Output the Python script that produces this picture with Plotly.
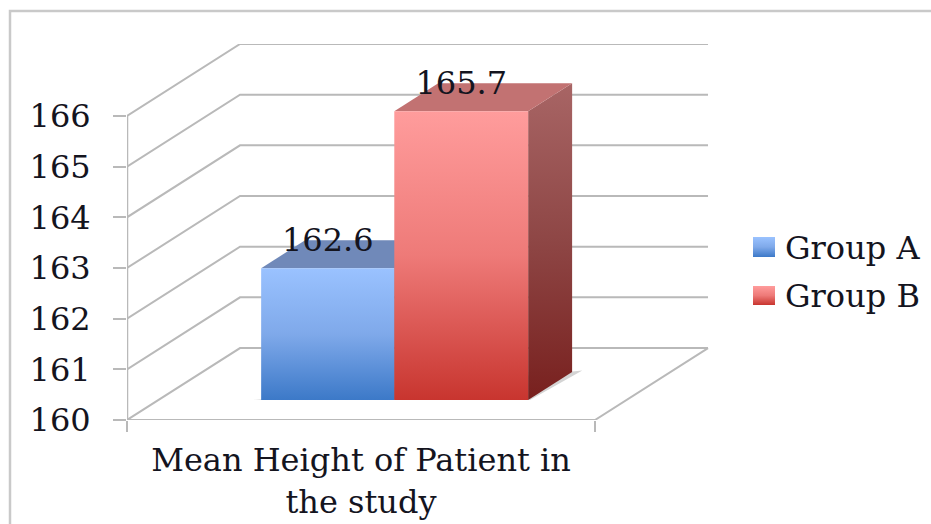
import plotly.graph_objects as go

# Chart content
category = "Mean Height of Patient in<br>the study"
groups = ["Group A", "Group B"]
heights = [162.6, 165.7]
y_ticks = [160, 161, 162, 163, 164, 165, 166]

# Oblique projection: how far one unit of depth moves a point on the 2D axes
DEPTH_X = 0.2415
DEPTH_Y = 1.42
FONT = "DejaVu Serif"
FONT_SIZE = 32
TEXT = "#14141e"
GRID = "#b9b9b9"

# The plot area runs to the right edge so the legend keys fall inside it
PLOT_W, PLOT_H = 804, 376
LEFT, TOP = 127, 44
X_RANGE = [0, PLOT_W / 468]
Y_RANGE = [160, 166 + DEPTH_Y]

# Bar footprint along the category axis and through the depth of the box
bar_spans = [(0.2195, 0.504), (0.504, 0.79)]
bar_depth = (0.278, 0.667)

# Face colours, listed from the top of the gradient to the bottom
front_fill = [("#9ac2ff", "#7fa9ea", "#3c79c8"), ("#ff9c9c", "#ee7a78", "#c8352f")]
side_fill = [("#6f87b5", "#4f709f", "#2f5a94"), ("#a86565", "#8e4645", "#78201e")]
lid_fill = ["#7089b9", "#c27272"]


def project(c, v, d):
    return c + d * DEPTH_X, v + d * DEPTH_Y


def polyline(points):
    xy = [project(*p) for p in points]
    return [p[0] for p in xy], [p[1] for p in xy]


def gradient(colours):
    return dict(
        type="vertical",
        colorscale=[[0, colours[2]], [0.5, colours[1]], [1, colours[0]]],
    )


def add_face(fig, points, colours, name=None):
    x, y = polyline(points + points[:1])
    fill = dict(fillcolor=colours) if isinstance(colours, str) else dict(fillgradient=gradient(colours))
    fig.add_trace(go.Scatter(
        x=x, y=y, mode="lines", fill="toself", line=dict(width=0),
        name=name or "", showlegend=False, hoverinfo="skip", **fill,
    ))


def add_rule(fig, points, width=2):
    x, y = polyline(points)
    fig.add_trace(go.Scatter(
        x=x, y=y, mode="lines", line=dict(color=GRID, width=width),
        showlegend=False, hoverinfo="skip", cliponaxis=False,
    ))


def page_x(px):
    return X_RANGE[0] + (px - LEFT) / PLOT_W * (X_RANGE[1] - X_RANGE[0])


def page_y(py):
    return Y_RANGE[1] - (py - TOP) / PLOT_H * (Y_RANGE[1] - Y_RANGE[0])


fig = go.Figure()

# Side wall grid lines, running back from the value axis and across the rear wall
low, high = y_ticks[0], y_ticks[-1]
for v in y_ticks:
    add_rule(fig, [(0, v, 0), (0, v, 1), (1, v, 1)])
# Floor outline and the value axis
add_rule(fig, [(0, low, 0), (1, low, 0), (1, low, 1)])
add_rule(fig, [(0, low, 0), (0, high, 0)], width=2.5)

# Soft contact shadow under the bars
add_face(fig, [
    (bar_spans[0][0] - 0.017, low, bar_depth[0]),
    (bar_spans[1][1] + 0.004, low, bar_depth[0]),
    (bar_spans[1][1] + 0.017, low, bar_depth[1] + 0.02),
    (bar_spans[1][1] - 0.01, low, bar_depth[1]),
], "#d4d4d4")

# Bars, left to right so the nearer faces overlap correctly
near, far = bar_depth
for i, (group, h) in enumerate(zip(groups, heights)):
    c0, c1 = bar_spans[i]
    add_face(fig, [(c1, low, near), (c1, low, far), (c1, h, far), (c1, h, near)], side_fill[i])
    add_face(fig, [(c0, h, near), (c1, h, near), (c1, h, far), (c0, h, far)], lid_fill[i])
    add_face(fig, [(c0, low, near), (c1, low, near), (c1, h, near), (c0, h, near)],
             front_fill[i], name=group)

# Value labels sit above the front face of each bar
fig.add_trace(go.Scatter(
    x=[(a + b) / 2 + near * DEPTH_X for a, b in bar_spans],
    y=[h + near * DEPTH_Y + 0.5 for h in heights],
    mode="text",
    text=[f"{h:.1f}" for h in heights],
    textposition="middle center",
    textfont=dict(family=FONT, size=FONT_SIZE, color=TEXT),
    showlegend=False, hoverinfo="skip", cliponaxis=False,
))

# Legend keys carry the same gradient as the bars, so they are drawn as filled traces
legend_rows = [(237, 257, 248), (286, 305, 296)]
annotations = []
for i, (group, (y0, y1, yc)) in enumerate(zip(groups, legend_rows)):
    x0, x1 = page_x(753), page_x(775)
    fig.add_trace(go.Scatter(
        x=[x0, x1, x1, x0, x0],
        y=[page_y(y1), page_y(y1), page_y(y0), page_y(y0), page_y(y1)],
        mode="lines", fill="toself", line=dict(width=0), fillgradient=gradient(front_fill[i]),
        showlegend=False, hoverinfo="skip", name=group,
    ))
    annotations.append(dict(
        text=group, x=page_x(783), y=page_y(yc), xref="x", yref="y",
        xanchor="left", yanchor="middle", showarrow=False,
        font=dict(family=FONT, size=FONT_SIZE, color=TEXT),
    ))

fig.update_layout(
    width=931, height=524,
    margin=dict(l=LEFT, r=931 - LEFT - PLOT_W, t=TOP, b=524 - TOP - PLOT_H, pad=0),
    paper_bgcolor="white", plot_bgcolor="white",
    hovermode=False,
    showlegend=False,
    font=dict(family=FONT, color=TEXT),
    annotations=annotations,
    xaxis=dict(
        range=X_RANGE, showgrid=False, zeroline=False, showline=False, automargin=False,
        tickmode="array", tickvals=[0.5], ticktext=[category],
        ticks="", ticklabelstandoff=18,
        tickfont=dict(family=FONT, size=FONT_SIZE, color=TEXT),
        minor=dict(tickmode="array", tickvals=[0, 1], ticks="outside", ticklen=11,
                   tickwidth=2, tickcolor=GRID),
    ),
    yaxis=dict(
        range=Y_RANGE, showgrid=False, zeroline=False, showline=False, automargin=False,
        tickmode="array", tickvals=y_ticks, ticks="outside", ticklen=13,
        tickwidth=2, tickcolor=GRID, ticklabelstandoff=16,
        tickfont=dict(family=FONT, size=FONT_SIZE, color=TEXT),
    ),
    shapes=[dict(
        type="path", xref="paper", yref="paper",
        path=f"M {(10 - LEFT) / PLOT_W} {(420 - 540) / PLOT_H} "
             f"L {(10 - LEFT) / PLOT_W} {(420 - 11) / PLOT_H} "
             f"L {(935 - LEFT) / PLOT_W} {(420 - 11) / PLOT_H}",
        line=dict(color="#c9c9c9", width=2.5),
    )],
)

fig.write_html("out.html")
